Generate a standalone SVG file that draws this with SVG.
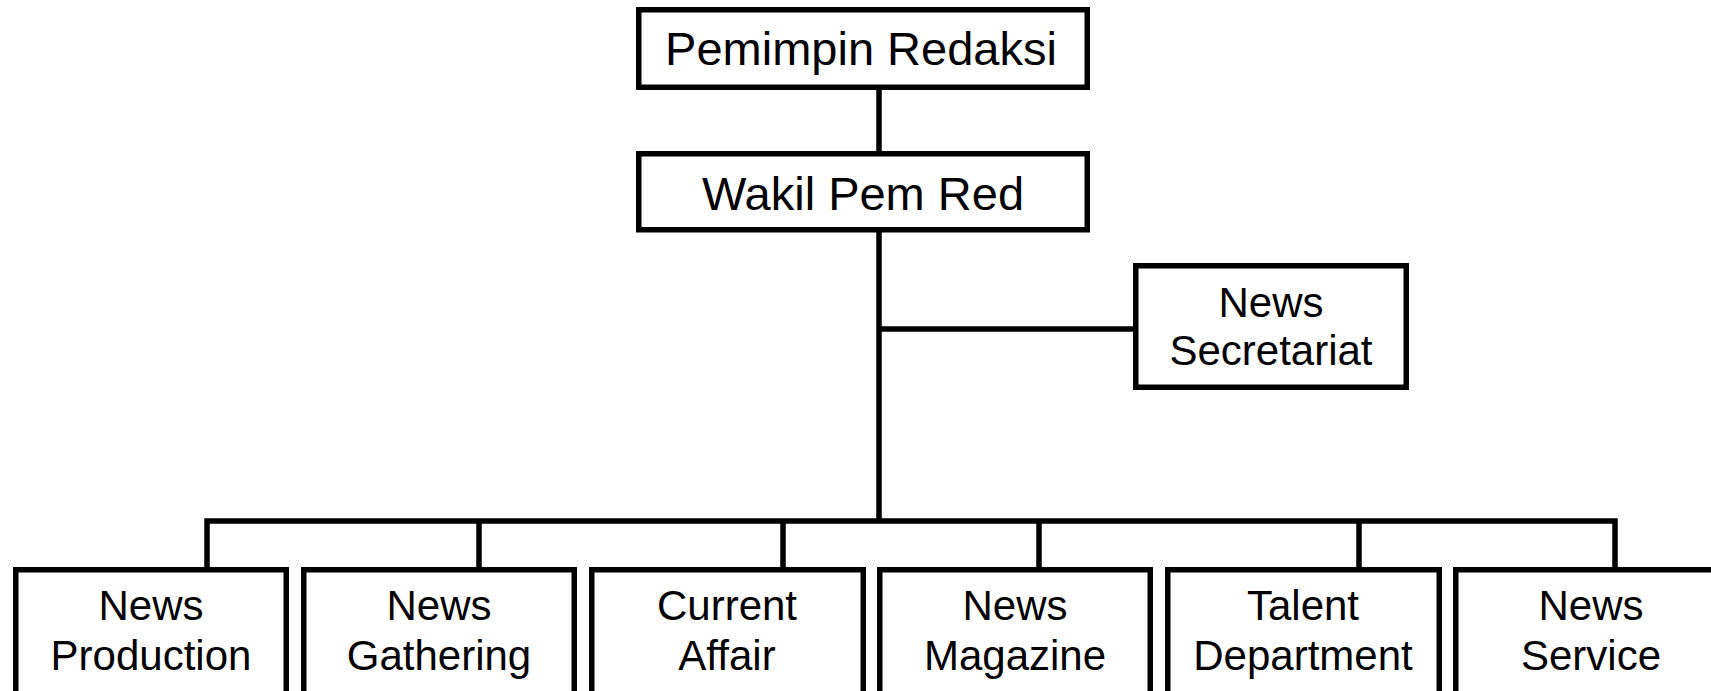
<svg xmlns="http://www.w3.org/2000/svg" width="1711" height="691" viewBox="0 0 1711 691">
<style>
.box{fill:#fff;stroke:#000;stroke-width:5.5}
.ln{fill:none;stroke:#000;stroke-width:5.5;stroke-linecap:butt;stroke-linejoin:miter}
.t{font-family:"Liberation Sans",Arial,sans-serif;fill:#000;text-anchor:middle}
.big{font-size:47px}
.sm{font-size:42px}
</style>
<rect width="1711" height="691" fill="#fff"/>
<g id="connectors">
<path class="ln" d="M879 90V152"/>
<path class="ln" d="M879 231V521"/>
<path class="ln" d="M879 329H1133"/>
<path class="ln" d="M207 568V521H1615V568"/>
<path class="ln" d="M479 521V568M783 521V568M1039 521V568M1359 521V568"/>
</g>
<g id="pemimpin">
<rect class="box" x="638.75" y="9.75" width="448.5" height="77.5"/>
<text class="t big" x="861" y="65">Pemimpin Redaksi</text>
</g>
<g id="wakil">
<rect class="box" x="638.75" y="153.75" width="448.5" height="76"/>
<text class="t big" x="863" y="210">Wakil Pem Red</text>
</g>
<g id="secretariat">
<rect class="box" x="1135.75" y="265.75" width="270.5" height="121.5"/>
<text class="t sm" x="1271" y="317">News</text>
<text class="t sm" x="1271" y="365">Secretariat</text>
</g>
<g id="production">
<rect class="box" x="15.75" y="569.75" width="270.5" height="140"/>
<text class="t sm" x="151" y="620">News</text>
<text class="t sm" x="151" y="670">Production</text>
</g>
<g id="gathering">
<rect class="box" x="303.75" y="569.75" width="270.5" height="140"/>
<text class="t sm" x="439" y="620">News</text>
<text class="t sm" x="439" y="670">Gathering</text>
</g>
<g id="current">
<rect class="box" x="591.75" y="569.75" width="271.5" height="140"/>
<text class="t sm" x="727" y="620">Current</text>
<text class="t sm" x="727" y="670">Affair</text>
</g>
<g id="magazine">
<rect class="box" x="879.75" y="569.75" width="270.5" height="140"/>
<text class="t sm" x="1015" y="620">News</text>
<text class="t sm" x="1015" y="670">Magazine</text>
</g>
<g id="talent">
<rect class="box" x="1167.75" y="569.75" width="271.5" height="140"/>
<text class="t sm" x="1303" y="620">Talent</text>
<text class="t sm" x="1303" y="670">Department</text>
</g>
<g id="service">
<rect class="box" x="1455.75" y="569.75" width="271.5" height="140"/>
<text class="t sm" x="1591" y="620">News</text>
<text class="t sm" x="1591" y="670">Service</text>
</g>
</svg>
